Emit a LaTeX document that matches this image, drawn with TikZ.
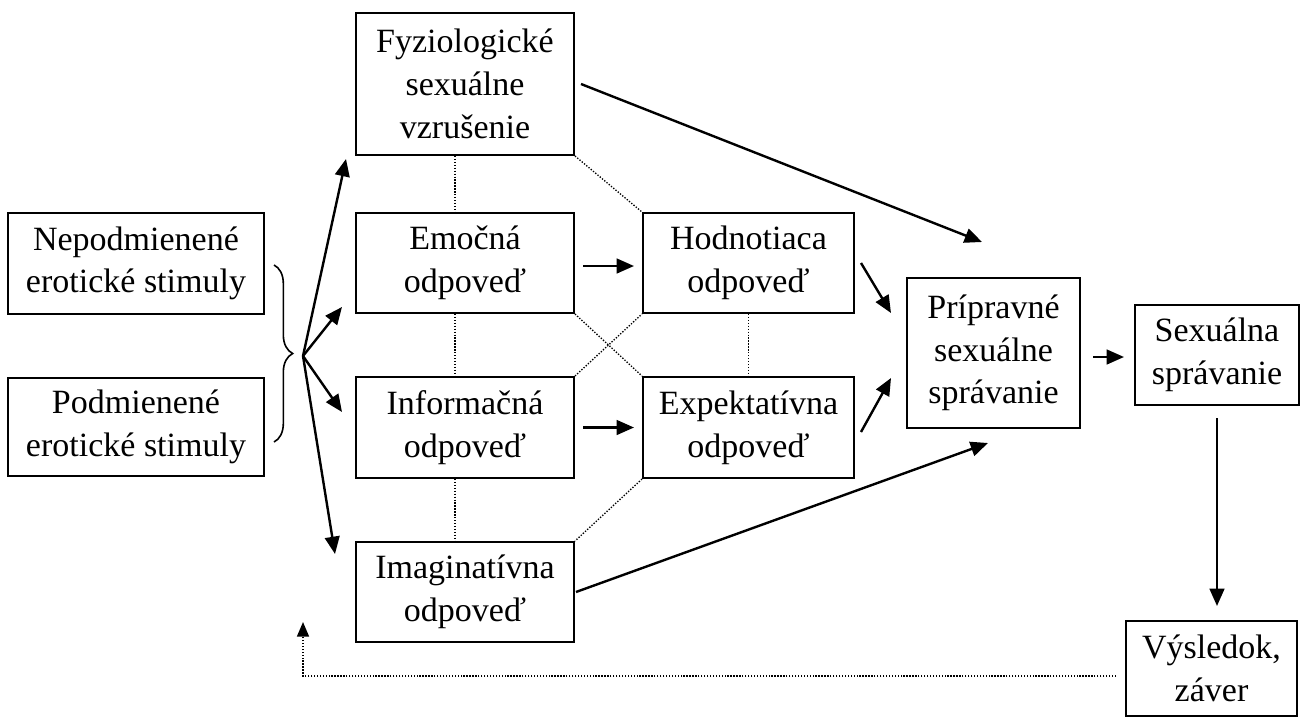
\documentclass[tikz,border=0pt]{standalone}
\usepackage{fontspec}
\setmainfont{Liberation Serif}
\usetikzlibrary{arrows.meta,calc,decorations.pathreplacing}
\begin{document}
\begin{tikzpicture}[x=0.75pt,y=-0.75pt,
  box/.style={draw,line width=1.5pt,align=center,inner sep=0pt,
    font=\fontsize{25.5}{32}\selectfont},
  wh/.style 2 args={minimum width=#1*0.75pt,minimum height=#2*0.75pt},
  arr/.style={line width=1.8pt,-{Triangle[length=13pt,width=11pt]}},
  dots/.style={line width=1pt,dash pattern=on 1pt off 1.2pt},
  dotarr/.style={line width=1.2pt,dash pattern=on 1pt off 1.2pt,-{Triangle[length=11pt,width=9pt]}},
  bracestyle/.style={line width=1.2pt,decorate,decoration={brace,amplitude=14pt}}]
\useasboundingbox (0,0) rectangle (1304,718);

\node[box,wh={256}{101}] (nep) at (136,263.5) {Nepodmienené\\erotické stimuly};
\node[box,wh={256}{98}] (pod) at (136,427) {Podmienené\\erotické stimuly};

\node[box,wh={218}{142}] (fyz) at (465,84) {Fyziologické\\sexuálne\\vzrušenie};
\node[box,wh={218}{100}] (emo) at (465,263) {Emočná\\odpoveď};
\node[box,wh={218}{101}] (inf) at (465,427.5) {Informačná\\odpoveď};
\node[box,wh={218}{100}] (ima) at (465,592) {Imaginatívna\\odpoveď};

\node[box,wh={211}{100}] (hod) at (748.5,263) {Hodnotiaca\\odpoveď};
\node[box,wh={211}{101}] (exp) at (748.5,427.5) {Expektatívna\\odpoveď};

\node[box,wh={173}{150}] (prip) at (993.5,353) {Prípravné\\sexuálne\\správanie};
\node[box,wh={164}{100}] (sex) at (1217,355) {Sexuálna\\správanie};
\node[box,wh={171}{95}] (vys) at (1211.5,668.5) {Výsledok,\\záver};

% brace
\draw[bracestyle] (274,265) -- (274,442);
\coordinate (fan) at (303,356);

% fan arrows
\draw[arr] (fan) -- ($(fyz.south west)+(-9,3)$);
\draw[arr] (fan) -- ($(emo.west)+(-13,44)$);
\draw[arr] (fan) -- ($(inf.west)+(-13,-15.5)$);
\draw[arr] (fan) -- ($(ima.north west)+(-20,13)$);

% horizontal arrows
\draw[arr] ($(emo.east)+(8,3)$) -- ($(hod.west)+(-8,3)$);
\draw[arr] ($(inf.east)+(8,0)$) -- ($(exp.west)+(-8,0)$);

% to preparatory behaviour
\draw[arr] ($(hod.east)+(6,0)$) -- ($(prip.west)+(-15,-40)$);
\draw[arr] ($(exp.east)+(6,4.5)$) -- ($(prip.west)+(-15,25)$);
\draw[arr] ($(fyz.east)+(6,0)$) -- ($(prip.north)+(-11.5,-35)$);
\draw[arr] ($(ima.east)+(1,0)$) -- ($(prip.south)+(-5.5,14)$);

\draw[arr] ($(prip.east)+(12,4)$) -- ($(sex.west)+(-10,2)$);
\draw[arr] ($(sex.south)+(0,12)$) -- ($(sex.south |- vys.north)+(0,-14)$);

% dotted links
\draw[dots] ($(fyz.south)+(-10,0)$) -- ($(emo.north)+(-10,0)$);
\draw[dots] ($(emo.south)+(-10,0)$) -- ($(inf.north)+(-10,0)$);
\draw[dots] ($(inf.south)+(-10,0)$) -- ($(ima.north)+(-10,0)$);
\draw[dots] (fyz.south east) -- (hod.north west);
\draw[dots] (emo.south east) -- (exp.north west);
\draw[dots] (inf.north east) -- (hod.south west);
\draw[dots] (hod.south) -- (exp.north);
\draw[dots] (exp.south west) -- (ima.north east);

% feedback
\coordinate (ret) at (303,622);
\draw[dotarr] ($(vys.west)+(-9,7.5)$) -| (ret);
\end{tikzpicture}
\end{document}
